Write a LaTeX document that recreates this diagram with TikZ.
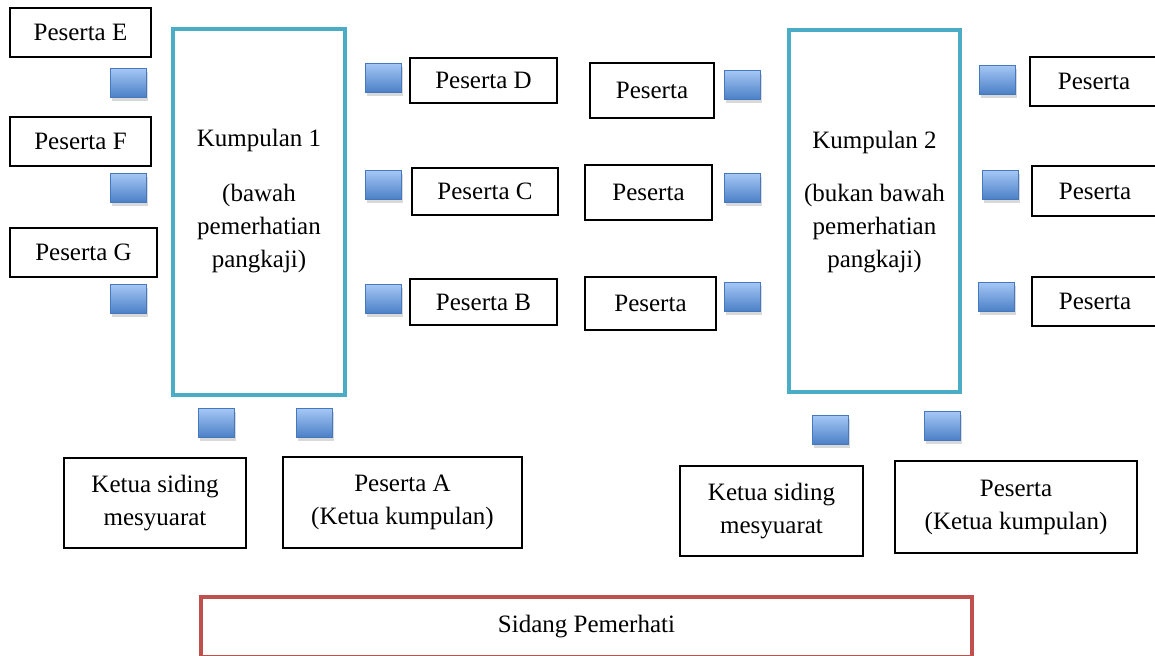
\documentclass[tikz,border=0pt]{standalone}
\usepackage{fontspec}
\setmainfont{Liberation Serif}
\usetikzlibrary{shadows}
\definecolor{kteal}{HTML}{4BACC6}
\definecolor{kred}{HTML}{C0504D}
\definecolor{seattop}{HTML}{A5C7F5}
\definecolor{seatbot}{HTML}{4A7FC6}
\definecolor{seatline}{HTML}{4578BC}
\tikzstyle{seat} = [draw=seatline, line width=0.5pt, top color=seattop, bottom color=seatbot, minimum width=18pt, minimum height=14.5pt, inner sep=0pt, drop shadow={shadow xshift=0.6pt, shadow yshift=-1.8pt, opacity=0.3}]
\tikzstyle{person} = [draw, line width=0.75pt, inner sep=0pt, align=center, font=\fontsize{12.5}{16.5}\selectfont]
\tikzstyle{group} = [draw=kteal, line width=2pt, inner sep=0pt]
\tikzstyle{grouptext} = [align=center, font=\fontsize{12.5}{16.5}\selectfont]

\begin{document}
\begin{tikzpicture}[x=0.5pt, y=-0.5pt]
        \useasboundingbox (0,0) rectangle (1155,655);

        \node at (259,212) [group, minimum width=86pt, minimum height=183pt](kump1) {};
        \node at (259,201) [grouptext](kump1txt) {Kumpulan 1\\[11pt](bawah\\pemerhatian\\pangkaji)};
        \node at (874.5,211) [group, minimum width=85.5pt, minimum height=181pt](kump2) {};
        \node at (874.5,202) [grouptext](kump2txt) {Kumpulan 2\\[10pt](bukan bawah\\pemerhatian\\pangkaji)};

        \node at (80.5,32.5) [person, minimum width=70.5pt, minimum height=24.5pt](pE) {Peserta E};
        \node at (80.5,141.5) [person, minimum width=70.5pt, minimum height=24.5pt](pF) {Peserta F};
        \node at (83.5,252.5) [person, minimum width=73.5pt, minimum height=24.5pt](pG) {Peserta G};
        \node at (128.5,83) [seat](sE) {};
        \node at (128.5,188) [seat](sF) {};
        \node at (128.5,299) [seat](sG) {};

        \node at (383.5,78) [seat](sD) {};
        \node at (383.5,185) [seat](sC) {};
        \node at (383.5,299) [seat](sB) {};
        \node at (483.5,80.5) [person, minimum width=73.5pt, minimum height=22.5pt](pD) {Peserta D};
        \node at (485,191.5) [person, minimum width=73pt, minimum height=23.5pt](pC) {Peserta C};
        \node at (483.5,302) [person, minimum width=73.5pt, minimum height=23pt](pB) {Peserta B};

        \node at (652,90.5) [person, minimum width=62pt, minimum height=27.5pt](m1) {Peserta};
        \node at (648.5,192.5) [person, minimum width=63.5pt, minimum height=27.5pt](m2) {Peserta};
        \node at (650.5,303.5) [person, minimum width=65.5pt, minimum height=26.5pt](m3) {Peserta};
        \node at (742.5,85) [seat](sm1) {};
        \node at (742.5,188) [seat](sm2) {};
        \node at (742.5,297) [seat](sm3) {};

        \node at (997.5,80) [seat](sr1) {};
        \node at (1000.5,185) [seat](sr2) {};
        \node at (996.5,297) [seat](sr3) {};
        \node at (1100,81.5) [person, minimum width=70pt, minimum height=24.5pt](r1) {\hspace*{-6pt}Peserta};
        \node at (1101,191) [person, minimum width=69pt, minimum height=25pt](r2) {\hspace*{-6pt}Peserta};
        \node at (1101,301.5) [person, minimum width=69pt, minimum height=24.5pt](r3) {\hspace*{-6pt}Peserta};

        \node at (216.5,423) [seat](sKS1) {};
        \node at (314.5,423) [seat](sA) {};
        \node at (155,503) [person, minimum width=91pt, minimum height=45pt](ks1) {Ketua siding\\mesyuarat};
        \node at (402.5,502.5) [person, minimum width=119.5pt, minimum height=45.5pt](pA) {Peserta A\\(Ketua kumpulan)};

        \node at (830.5,430) [seat](sKS2) {};
        \node at (942.5,426) [seat](sK2) {};
        \node at (771.5,511) [person, minimum width=91.5pt, minimum height=45pt](ks2) {Ketua siding\\mesyuarat};
        \node at (1016,507) [person, minimum width=121pt, minimum height=46pt](pK2) {Peserta\\(Ketua kumpulan)};

        \node at (586.5,627) [draw=kred, line width=2pt, inner sep=0pt, minimum width=385.5pt, minimum height=30pt, font=\fontsize{12.5}{15}\selectfont](sidang) {Sidang Pemerhati};

    \end{tikzpicture}
\end{document}
